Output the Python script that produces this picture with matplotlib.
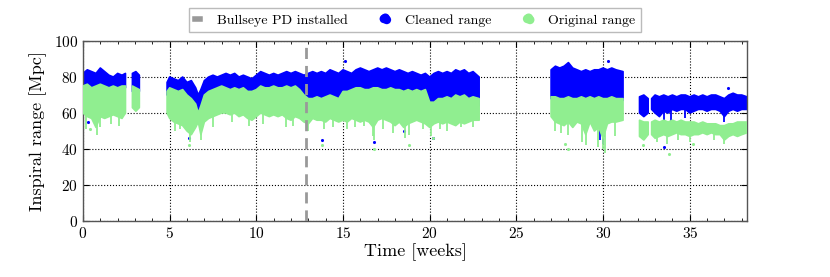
import numpy as np
import matplotlib
matplotlib.use("Agg")
import matplotlib.pyplot as plt
from matplotlib.lines import Line2D

nan = np.nan

# Envelope samples (weeks); NaN separates observing segments
t = [0.0, 0.25, 0.5, 0.75, 1.0, 1.25, 1.5, 1.75, 2.0, 2.25, 2.45, nan,
     2.85, 3.05, 3.25, nan,
     4.85, 5.0, 5.25, 5.5, 5.75, 6.0, 6.25, 6.5, 6.65, 6.8, 7.0, 7.25, 7.5, 7.75,
     8.0, 8.25, 8.5, 8.75, 9.0, 9.25, 9.5, 9.75, 10.0, 10.25, 10.5, 10.75,
     11.0, 11.25, 11.5, 11.75, 12.0, 12.25, 12.5, 12.75, 13.0, 13.25, 13.5, 13.75,
     14.0, 14.25, 14.5, 14.75, 15.0, 15.25, 15.5, 15.75, 16.0, 16.25, 16.5, 16.75,
     17.0, 17.25, 17.5, 17.75, 18.0, 18.25, 18.5, 18.75, 19.0, 19.25, 19.5, 19.75,
     20.0, 20.25, 20.5, 20.75, 21.0, 21.25, 21.5, 21.75, 22.0, 22.25, 22.5, 22.85, nan,
     27.0, 27.25, 27.5, 27.75, 28.0, 28.25, 28.5, 28.75, 29.0, 29.25, 29.5, 29.75,
     30.0, 30.25, 30.5, 30.75, 31.15, nan,
     32.1, 32.35, 32.6, nan,
     32.8, 33.0, 33.25, 33.5, 33.75, 34.0, 34.25, 34.5, 34.75, 35.0, 35.25, 35.5,
     35.75, 36.0, 36.25, 36.5, 36.75, 37.0, 37.25, 37.5, 37.75, 38.0, 38.3]

cleaned_hi = [82, 84, 83, 82, 85, 83, 81, 80, 82, 81, 82, nan,
              82, 83, 81, nan,
              77, 80, 79, 78, 80, 77, 78, 74, 70, 73, 78, 80, 81, 80,
              81, 82, 81, 82, 80, 81, 80, 79, 81, 83, 82, 81,
              82, 81, 82, 83, 82, 83, 82, 81, 82, 83, 82, 83,
              82, 84, 83, 82, 84, 83, 82, 84, 85, 84, 83, 84,
              85, 84, 85, 84, 83, 84, 83, 82, 83, 82, 81, 82,
              80, 82, 83, 82, 83, 82, 84, 83, 84, 82, 83, 80, nan,
              84, 86, 85, 86, 88, 85, 84, 83, 84, 83, 84, 84,
              85, 84, 85, 84, 83, nan,
              69, 70, 68, nan,
              68, 70, 69, 70, 69, 70, 69, 70, 70, 69, 70, 69,
              70, 69, 70, 70, 69, 68, 70, 71, 70, 70, 69]

cleaned_lo = [74, 75, 74, 73, 75, 74, 73, 74, 73, 74, 74, nan,
              72, 70, 72, nan,
              70, 72, 72, 71, 72, 68, 68, 62, 55, 60, 66, 70, 71, 72,
              72, 73, 72, 73, 72, 72, 71, 71, 72, 73, 73, 72,
              73, 72, 73, 73, 72, 73, 72, 67, 66, 66, 67, 66,
              66, 67, 66, 65, 68, 68, 69, 70, 70, 70, 69, 70,
              70, 70, 70, 70, 69, 70, 69, 69, 69, 69, 68, 69,
              62, 63, 64, 64, 65, 64, 65, 64, 65, 64, 65, 64, nan,
              68, 67, 66, 67, 65, 66, 67, 67, 66, 67, 66, 67,
              65, 66, 67, 67, 67, nan,
              60, 58, 60, nan,
              62, 60, 58, 61, 60, 62, 61, 62, 62, 60, 61, 62,
              62, 61, 62, 62, 61, 58, 61, 62, 61, 62, 62]

original_hi = [75, 76, 74, 75, 76, 75, 74, 75, 74, 75, 75, nan,
               75, 74, 73, nan,
               72, 74, 73, 72, 73, 70, 68, 65, 60, 64, 70, 72, 73, 74,
               75, 74, 73, 74, 73, 74, 72, 72, 73, 75, 74, 74,
               75, 74, 74, 75, 74, 75, 73, 70, 68, 68, 69, 68,
               69, 70, 69, 68, 72, 72, 73, 74, 74, 73, 73, 74,
               74, 73, 73, 74, 73, 73, 72, 73, 72, 73, 72, 73,
               66, 66, 68, 68, 69, 68, 70, 69, 70, 68, 69, 68, nan,
               69, 69, 68, 68, 69, 68, 68, 69, 68, 69, 68, 69,
               68, 68, 69, 68, 68, nan,
               56, 55, 55, nan,
               55, 56, 55, 56, 55, 56, 55, 56, 55, 55, 55, 54,
               55, 54, 54, 54, 53, 53, 54, 54, 55, 55, 55]

original_lo = [60, 58, 57, 52, 58, 57, 58, 59, 58, 57, 60, nan,
               63, 61, 63, nan,
               60, 57, 55, 54, 53, 50, 48, 52, 55, 48, 55, 57, 58, 59,
               60, 60, 59, 60, 58, 59, 57, 56, 58, 60, 59, 58,
               59, 58, 59, 57, 56, 58, 57, 55, 54, 57, 56, 56,
               55, 57, 56, 55, 56, 55, 57, 56, 55, 56, 55, 52,
               56, 57, 56, 55, 53, 55, 52, 54, 55, 56, 55, 54,
               52, 54, 55, 54, 55, 54, 53, 55, 54, 55, 56, 56, nan,
               58, 55, 54, 53, 55, 52, 55, 54, 48, 55, 50, 52,
               46, 54, 55, 55, 56, nan,
               47, 45, 48, nan,
               48, 46, 47, 48, 47, 48, 49, 48, 48, 47, 48, 48,
               49, 48, 49, 48, 48, 45, 47, 48, 47, 48, 49]

# Downward glitches (time, minimum range)
original_dip_t = [0.15, 0.8, 1.0, 1.6, 2.1, 5.3, 5.6, 6.2, 6.8, 7.5, 8.6, 9.6, 10.4,
                  11.7, 12.1, 13.0, 13.9, 14.4, 15.2, 15.7, 16.2, 16.7, 16.8, 17.3,
                  17.9, 18.6, 18.8, 19.6, 20.1, 20.6, 21.0, 21.8, 22.5,
                  27.2, 27.6, 28.0, 28.8, 29.0, 29.7, 30.0, 30.1, 30.7,
                  33.1, 33.7, 34.3, 35.0, 36.4, 37.0]
original_dip_v = [51, 48, 52, 54, 53, 50, 51, 44, 45, 52, 55, 53, 54,
                  52, 53, 50, 51, 52, 51, 52, 53, 47, 45, 51,
                  49, 46, 48, 51, 47, 51, 50, 52, 52,
                  50, 49, 48, 44, 42, 41, 40, 38, 47,
                  44, 43, 45, 44, 45, 43]
cleaned_dip_t = [6.65, 12.0, 29.0, 29.8, 30.0, 33.5, 33.9, 34.7, 37.0]
cleaned_dip_v = [55, 68, 50, 45, 43, 52, 55, 57, 55]

# Isolated outlier points
cleaned_out_t = [0.3, 6.1, 13.8, 15.1, 16.8, 18.5, 20.2, 30.3, 37.2, 33.5, 30.0]
cleaned_out_v = [55, 46, 45, 89, 44, 50, 46, 89, 74, 41, 48]
original_out_t = [0.4, 6.1, 13.8, 16.8, 18.8, 20.2, 28.0, 27.8, 33.8, 35.2, 32.3]
original_out_v = [51, 42, 42, 40, 42, 46, 40, 43, 37, 43, 42]

bullseye_week = 12.85

BLUE = "#0000ff"
GREEN = "#90ee90"

plt.rcParams["font.family"] = ["cmr10", "DejaVu Serif"]
plt.rcParams["mathtext.fontset"] = "cm"
plt.rcParams["axes.formatter.use_mathtext"] = True

fig = plt.figure(figsize=(8.3, 2.77), dpi=100)
ax = fig.add_axes([0.1, 0.202, 0.8, 0.65])

tt = np.array(t, dtype=float)
bh = np.array(cleaned_hi, dtype=float)
bl = np.array(cleaned_lo, dtype=float)
gh = np.array(original_hi, dtype=float)
gl = np.array(original_lo, dtype=float)

ax.fill_between(tt, bl, bh, color=BLUE, lw=1.2, edgecolor=BLUE, zorder=2)
ok = ~np.isnan(tt)
bl_at = np.interp(cleaned_dip_t, tt[ok], bl[ok])
ax.vlines(cleaned_dip_t, cleaned_dip_v, bl_at + 1, color=BLUE, lw=1.3, zorder=2)
ax.scatter(cleaned_out_t, cleaned_out_v, s=5, color=BLUE, lw=0, zorder=2)

ax.fill_between(tt, gl, gh, color=GREEN, lw=1.2, edgecolor=GREEN, zorder=3)
gl_at = np.interp(original_dip_t, tt[ok], gl[ok])
ax.vlines(original_dip_t, original_dip_v, gl_at + 1, color=GREEN, lw=1.3, zorder=3)
ax.scatter(original_out_t, original_out_v, s=5, color=GREEN, lw=0, zorder=3)

ax.axvline(bullseye_week, color="#999999", ls=(0, (4, 2.5)), lw=2, zorder=4)

ax.set_xlim(0, 38.3)
ax.set_ylim(0, 100)
ax.set_xticks([0, 5, 10, 15, 20, 25, 30, 35])
ax.set_xticks(np.arange(0, 39, 1), minor=True)
ax.set_yticks([0, 20, 40, 60, 80, 100])
ax.tick_params(which="both", direction="in", top=True, right=True, labelsize=11)
ax.tick_params(which="major", length=4)
ax.tick_params(which="minor", length=2.5)
ax.grid(True, which="major", ls=":", color="black", lw=0.8)
for s in ax.spines.values():
    s.set_color("#555555")
    s.set_linewidth(1.0)

ax.set_xlabel("Time [weeks]", fontsize=13, labelpad=2)
ax.set_ylabel("Inspiral range [Mpc]", fontsize=13, labelpad=5)

h_line = Line2D([], [], color="#999999", ls="-", lw=4)
h_b = ax.scatter([], [], s=40, color=BLUE, lw=0)
h_g = ax.scatter([], [], s=40, color=GREEN, lw=0)
leg = ax.legend([h_line, h_b, h_g], ["Bullseye PD installed", "Cleaned range", "Original range"],
                loc="lower center", bbox_to_anchor=(0.5, 1.01), ncol=3, fontsize=10,
                frameon=True, fancybox=False, edgecolor="#aaaaaa", handlelength=0.4,
                scatterpoints=3, scatteryoffsets=[0.4, 0.6, 0.5], columnspacing=2.5,
                handletextpad=1.2, borderpad=0.4)
leg.get_frame().set_linewidth(1.0)

fig.savefig("out.png", dpi=100)
